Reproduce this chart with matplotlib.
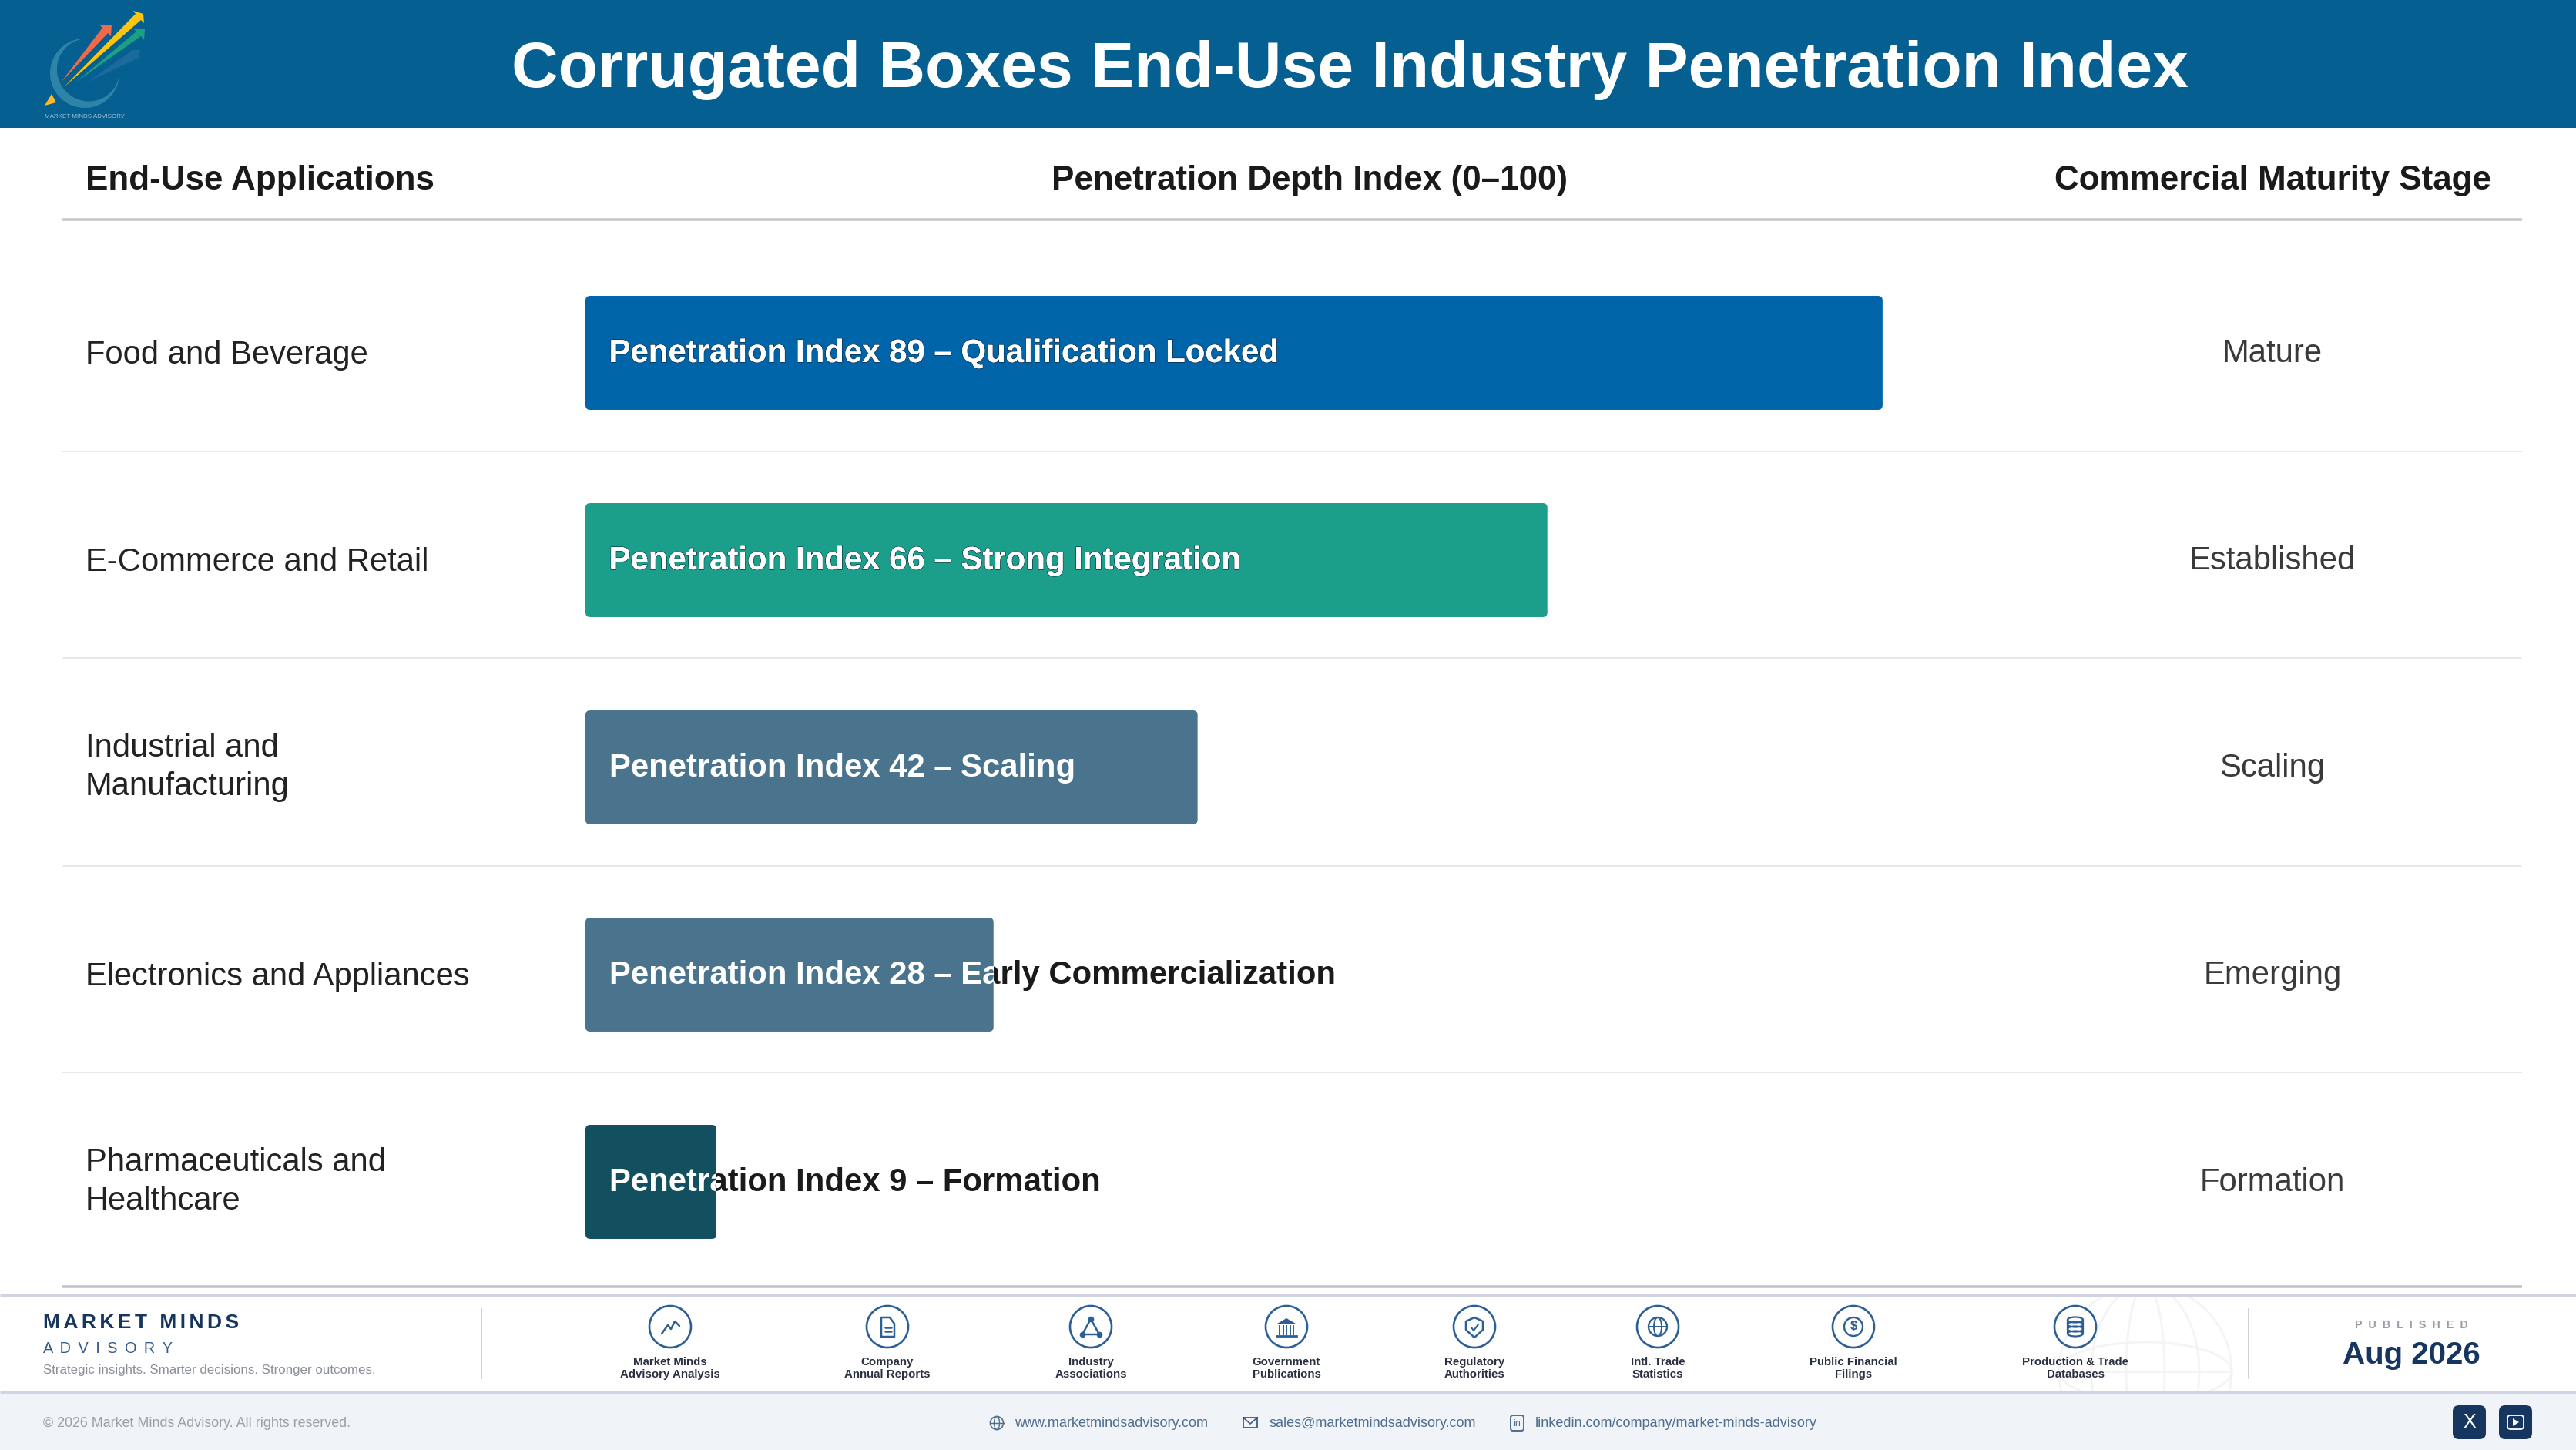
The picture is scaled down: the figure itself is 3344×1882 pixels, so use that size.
import numpy as np
import matplotlib
matplotlib.use("Agg")
import matplotlib.pyplot as plt
import matplotlib.patheffects as pe
from matplotlib.patches import Circle, Ellipse, FancyBboxPatch, Polygon, Rectangle
from matplotlib.transforms import Bbox, TransformedBbox

plt.rcParams["font.family"] = ["Liberation Sans", "DejaVu Sans"]

# chart data
applications = [
    "Food and Beverage",
    "E-Commerce and Retail",
    "Industrial and\nManufacturing",
    "Electronics and Appliances",
    "Pharmaceuticals and\nHealthcare",
]
index_values = [89, 66, 42, 28, 9]
index_notes = [
    "Qualification Locked",
    "Strong Integration",
    "Scaling",
    "Early Commercialization",
    "Formation",
]
stages = ["Mature", "Established", "Scaling", "Emerging", "Formation"]
bar_colors = ["#0064a9", "#1b9e8a", "#4a748e", "#4a748e", "#12505f"]

source_labels = [
    "Market Minds\nAdvisory Analysis",
    "Company\nAnnual Reports",
    "Industry\nAssociations",
    "Government\nPublications",
    "Regulatory\nAuthorities",
    "Intl. Trade\nStatistics",
    "Public Financial\nFilings",
    "Production & Trade\nDatabases",
]
source_icons = ["chart", "doc", "triangle", "bank", "shield", "globe", "coin", "db"]
source_x = [870, 1152, 1416, 1670, 1914, 2152, 2406, 2694]

W, H = 3344, 1882
NAVY = "#17365f"
ICON = "#2c5f96"

fig = plt.figure(figsize=(W / 100, H / 100), dpi=100, facecolor="white")

# page axes in pixels, for everything that is not a bar
page = fig.add_axes([0, 0, 1, 1])
page.set_xlim(0, W)
page.set_ylim(H, 0)
page.axis("off")


def hline(y, x0, x1, color, lw):
    page.plot([x0, x1], [y, y], color=color, lw=lw * 0.72, solid_capstyle="butt")


def vline(x, y0, y1, color, lw):
    page.plot([x, x], [y0, y1], color=color, lw=lw * 0.72, solid_capstyle="butt")


# =====================================================
# HEADER
# =====================================================
page.add_patch(Rectangle((0, 0), W, 166, color="#055f90", lw=0))
page.text(1752, 91, "Corrugated Boxes End-Use Industry Penetration Index",
          color="white", fontsize=60.5, fontweight="bold", ha="center", va="center")

# logo
t = np.radians(np.linspace(80, 365, 120))
r_out = 45
r_in = 45 - 11 * np.sin((t - t[0]) / (t[-1] - t[0]) * np.pi) ** 1.5
ring = np.r_[np.c_[110 + r_out * np.cos(t), 95 - r_out * np.sin(t)],
             np.c_[110 + r_in[::-1] * np.cos(t[::-1]), 95 - r_in[::-1] * np.sin(t[::-1])]]
page.add_patch(Polygon(ring, closed=True, color="#2e84a8", lw=0))
page.add_patch(Polygon([(113, 107), (172, 65), (182, 65), (180, 75)], closed=True,
                       color="#1a6a9c", lw=0))
page.add_patch(Polygon([(98, 107), (177, 41), (173, 37), (188, 38), (187, 52), (183, 47)],
                       closed=True, color="#1aa083", lw=0))
page.add_patch(Polygon([(79, 107), (133, 36), (129, 32), (145, 32), (144, 47), (140, 43)],
                       closed=True, color="#ee6a48", lw=0))
page.add_patch(Polygon([(83, 113), (176, 18), (173, 14), (186, 18), (187, 30), (183, 26)],
                       closed=True, color="#fcc60e", lw=0))
page.add_patch(Polygon([(58, 137), (67, 122), (73, 133)], closed=True, color="#fbb928", lw=0))
page.text(110, 151, "MARKET MINDS ADVISORY", color="#9fc0d0", fontsize=5.8,
          ha="center", va="center")

# =====================================================
# COLUMN HEADERS AND RULES
# =====================================================
page.text(111, 234, "End-Use Applications", color="#1a1a1a", fontsize=31.7,
          fontweight="bold", ha="left", va="center")
page.text(1700, 234, "Penetration Depth Index (0–100)", color="#1a1a1a", fontsize=31.7,
          fontweight="bold", ha="center", va="center")
page.text(2950, 234, "Commercial Maturity Stage", color="#1a1a1a", fontsize=31.7,
          fontweight="bold", ha="center", va="center")
hline(285, 81, 3274, "#c8c8cc", 3.5)
for y in [585.5, 854, 1124, 1392]:
    hline(y, 81, 3274, "#e8e8ea", 2)
hline(1670, 81, 3274, "#c0c0c8", 3.5)

# =====================================================
# BARS
# =====================================================
AX_L, AX_R = 760, 2652
AX_T, AX_B = 323.5, 1668.5
ax = fig.add_axes([AX_L / W, 1 - AX_B / H, (AX_R - AX_L) / W, (AX_B - AX_T) / H])
ax.patch.set_alpha(0)
ax.set_xlim(0, 100)
ax.set_ylim(4.5, -0.5)
ax.axis("off")

rows = np.arange(len(applications))
bars = ax.barh(rows, index_values, height=0.55, color=bar_colors, lw=0)

for i, rect in enumerate(bars):
    # rounded corners, 6 px radius
    clip = FancyBboxPatch((rect.get_x(), rect.get_y()), rect.get_width(), rect.get_height(),
                          boxstyle="round,pad=0,rounding_size=0.32",
                          mutation_aspect=0.07, transform=ax.transData)
    rect.set_clip_path(clip)

    # same label twice: dark outside the bar, white on it
    label = f"Penetration Index {index_values[i]} – {index_notes[i]}"
    dark = ax.annotate(label, xy=(0, i), xytext=(22, -0.7), textcoords="offset points",
                       color="#1a1a1a", fontsize=30.2, fontweight="bold", va="center", ha="left")
    dark.set_clip_box(TransformedBbox(Bbox([[index_values[i], i - 0.5], [100, i + 0.5]]), ax.transData))
    dark.set_clip_on(True)
    white = ax.annotate(label, xy=(0, i), xytext=(22, -0.7), textcoords="offset points",
                        color="white", fontsize=30.2, fontweight="bold", va="center", ha="left")
    white.set_clip_path(rect)
    white.set_clip_on(True)
    if i < 2:
        white.set_path_effects([pe.withStroke(linewidth=1, foreground="#0d2a44"), pe.Normal()])

    y_row = 458 + 269 * i
    label_y = y_row if "\n" in applications[i] else y_row + 3
    page.text(111, label_y, applications[i], color="#222222", fontsize=30.1, ha="left",
              va="center", linespacing=1.34)
    page.text(2950, y_row + 1, stages[i], color="#3a3a3a", fontsize=30.2, ha="center", va="center")

# =====================================================
# FOOTER
# =====================================================
page.add_patch(Rectangle((0, 1807), W, H - 1807, color="#f0f4f8", lw=0))

# faint globe behind the source row
footer_clip = Rectangle((0, 1681), W, 126, transform=page.transData)
for w, h in [(224, 224), (140, 224), (50, 224), (224, 76)]:
    e = Ellipse((2785, 1780), w, h, fill=False, ec="#f3f4f6", lw=2)
    page.add_patch(e)
    e.set_clip_path(footer_clip)
hline(1780, 2673, 2897, "#f3f4f6", 3)

hline(1681, 0, W, "#d2d3e2", 3)
hline(1807, 0, W, "#d2d3e2", 3)
vline(625, 1698, 1790, "#d0d1d8", 2)
vline(2919, 1698, 1790, "#d0d1d8", 2)

page.text(56, 1717, "\u200a\u200a".join("MARKET MINDS"), color=NAVY, fontsize=19,
          fontweight="bold", ha="left", va="center")
page.text(56, 1751, " \u2009".join("ADVISORY"), color="#355a8a", fontsize=14.3, ha="left", va="center")
page.text(56, 1778, "Strategic insights. Smarter decisions. Stronger outcomes.",
          color="#8a8f98", fontsize=12.2, ha="left", va="center")


def draw_icon(name, cx, cy):
    page.add_patch(Circle((cx, cy), 27, fill=False, ec=ICON, lw=1.9))
    kw = dict(color=ICON, lw=1.8, solid_capstyle="round", solid_joinstyle="round")
    if name == "chart":
        page.plot([cx - 11, cx - 3, cx + 1, cx + 6, cx + 12],
                  [cy + 9, cy - 2, cy + 3, cy - 7, cy - 1], **kw)
    elif name == "doc":
        page.plot([cx - 8, cx - 8, cx + 3, cx + 9, cx + 9, cx - 8],
                  [cy + 13, cy - 12, cy - 12, cy - 4, cy + 13, cy + 13], **kw)
        page.plot([cx - 3, cx + 5], [cy + 1, cy + 1], **kw)
        page.plot([cx - 3, cx + 5], [cy + 6, cy + 6], **kw)
    elif name == "triangle":
        page.plot([cx, cx - 11, cx + 11, cx], [cy - 10, cy + 10, cy + 10, cy - 10], **kw)
        page.plot([cx, cx - 11, cx + 11], [cy - 10, cy + 10, cy + 10], "o", color=ICON, ms=4.5)
    elif name == "bank":
        page.add_patch(Polygon([(cx - 12, cy - 4), (cx, cy - 11), (cx + 12, cy - 4)],
                               closed=True, color=ICON, lw=0))
        for dx in [-9, -4.5, 0, 4.5, 9]:
            page.plot([cx + dx, cx + dx], [cy - 1, cy + 10], color=ICON, lw=1.4)
        page.plot([cx - 13, cx + 13], [cy + 12, cy + 12], color=ICON, lw=2)
    elif name == "shield":
        page.plot([cx, cx + 11, cx + 11, cx, cx - 11, cx - 11, cx],
                  [cy - 12, cy - 7, cy + 4, cy + 14, cy + 4, cy - 7, cy - 12], **kw)
        page.plot([cx - 4, cx - 1, cx + 5], [cy + 1, cy + 5, cy - 3], color=ICON, lw=1.5)
    elif name == "globe":
        page.add_patch(Circle((cx, cy), 12, fill=False, ec=ICON, lw=1.7))
        page.add_patch(Ellipse((cx, cy), 10, 24, fill=False, ec=ICON, lw=1.4))
        page.plot([cx - 12, cx + 12], [cy, cy], color=ICON, lw=1.4)
    elif name == "coin":
        page.add_patch(Circle((cx, cy), 12, fill=False, ec=ICON, lw=1.7))
        page.text(cx, cy, "$", color=ICON, fontsize=12, fontweight="bold", ha="center", va="center")
    elif name == "db":
        for dy in [-9, -3, 3, 9]:
            page.add_patch(Ellipse((cx, cy + dy), 20, 7, fill=False, ec=ICON, lw=1.6))
        page.plot([cx - 10, cx - 10], [cy - 9, cy + 9], color=ICON, lw=1.6)
        page.plot([cx + 10, cx + 10], [cy - 9, cy + 9], color=ICON, lw=1.6)


for lab, icon, x in zip(source_labels, source_icons, source_x):
    draw_icon(icon, x, 1722)
    page.text(x, 1776, lab, color="#2a3040", fontsize=10.8, fontweight="bold",
              ha="center", va="center", linespacing=1.15)

page.text(3130, 1720, "  ".join("PUBLISHED"), color="#9a9ea6", fontsize=10.4,
          fontweight="bold", ha="center", va="center")
page.text(3130, 1759, "Aug 2026", color=NAVY, fontsize=29, fontweight="bold",
          ha="center", va="center")

# bottom band
page.text(56, 1848, "© 2026 Market Minds Advisory. All rights reserved.",
          color="#9aa0a8", fontsize=12.9, ha="left", va="center")
link_color = "#4f6d8f"
page.text(1317, 1848, "www.marketmindsadvisory.com", color=link_color, fontsize=12.95,
          ha="left", va="center")
page.text(1647, 1848, "sales@marketmindsadvisory.com", color=link_color, fontsize=12.95,
          ha="left", va="center")
page.text(1993, 1848, "linkedin.com/company/market-minds-advisory", color=link_color,
          fontsize=12.95, ha="left", va="center")

# link icons
page.add_patch(Circle((1294, 1847), 8.5, fill=False, ec=link_color, lw=1.2))
page.add_patch(Ellipse((1294, 1847), 7, 17, fill=False, ec=link_color, lw=1))
page.plot([1285.5, 1302.5], [1847, 1847], color=link_color, lw=1)
page.add_patch(Rectangle((1614, 1840), 18, 13, fill=False, ec=NAVY, lw=1.3, alpha=0.8))
page.plot([1614, 1623, 1632], [1840, 1848, 1840], color=NAVY, lw=1.2, alpha=0.8)
page.add_patch(FancyBboxPatch((1961, 1837), 17, 20, boxstyle="round,pad=0,rounding_size=3",
                              fill=False, ec=link_color, lw=1.4))
page.text(1969.5, 1848, "in", color=link_color, fontsize=9, ha="center", va="center")

# social buttons
for x0 in [3184, 3244]:
    page.add_patch(FancyBboxPatch((x0, 1824), 43, 44, boxstyle="round,pad=0,rounding_size=8",
                                  color=NAVY, lw=0))
page.text(3205.5, 1846, "X", color="white", fontsize=18, ha="center", va="center")
page.add_patch(FancyBboxPatch((3255, 1837), 21, 18, boxstyle="round,pad=0,rounding_size=4",
                              fill=False, ec="white", lw=1.3))
page.add_patch(Polygon([(3262, 1841), (3262, 1851), (3270, 1846)], closed=True, color="white", lw=0))

fig.savefig("out.png", dpi=100)
